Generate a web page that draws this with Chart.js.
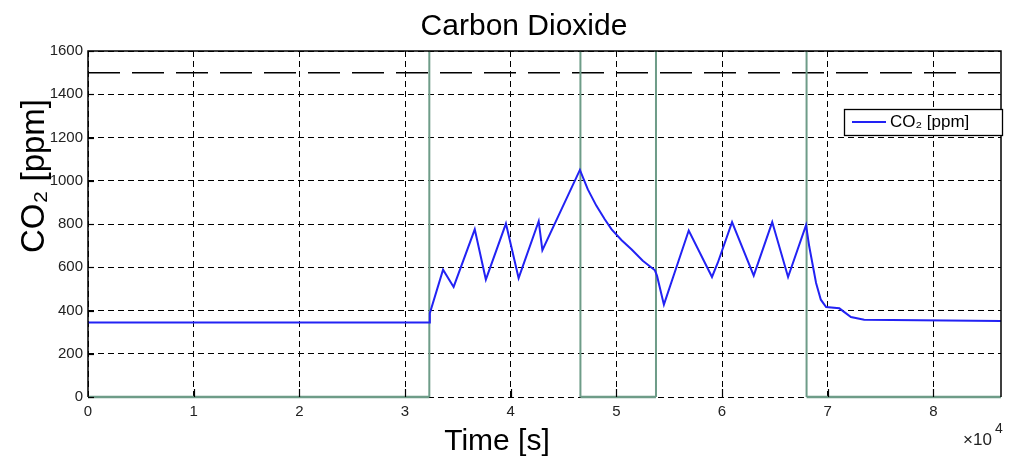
<!DOCTYPE html>
<html><head><meta charset="utf-8">
<script src="https://cdn.jsdelivr.net/npm/chart.js@4.4.0/dist/chart.umd.min.js"></script>
<style>html,body{margin:0;padding:0;background:#fff;}#wrap{width:1014px;height:459px;}</style>
</head><body><div id="wrap"><canvas id="c" width="1014" height="459"></canvas></div>
<script>
const chartTitle = 'Carbon Dioxide';
const xTitle = 'Time [s]';
const yTitle = 'CO₂ [ppm]';
const seriesName = 'CO₂ [ppm]';
const xExponent = '×10';
const xExponentPower = '4';

const xTicks = [0, 10000, 20000, 30000, 40000, 50000, 60000, 70000, 80000];
const xTickLabels = ['0', '1', '2', '3', '4', '5', '6', '7', '8'];
const yTicks = [0, 200, 400, 600, 800, 1000, 1200, 1400, 1600];
const yTickLabels = ['0', '200', '400', '600', '800', '1000', '1200', '1400', '1600'];
const xMax = 86400;
const yMax = 1600;

const co2Time  = [0, 32300, 32350, 33600, 34600, 36600, 37650, 39550, 40750, 42650, 43000, 46550, 47300, 48100, 48900, 49550, 50500, 51450, 52500, 53650, 53850, 54500, 56850, 59050, 59600, 60950, 63000, 64750, 66250, 67950, 68250, 68900, 69350, 69850, 71100, 72200, 73450, 86400];
const co2Value = [345, 345, 388, 589, 509, 775, 543, 802, 550, 813, 679, 1050, 960, 885, 822, 775, 725, 682, 630, 586, 560, 427, 770, 555, 621, 809, 561, 809, 555, 795, 697, 527, 450, 416, 410, 370, 357, 352];

const switchTimes = [32300, 46600, 53750, 68000];
const statusStart = [0, 46600, 68000];
const statusEnd = [32300, 53750, 86400];
const limitValue = 1500;

const blue = '#2222f4';
const green = '#6e9c88';
const FONT = '"Liberation Sans", Arial, sans-serif';

const co2Data = co2Time.map((t, i) => ({x: t, y: co2Value[i]}));
const vlineData = switchTimes.flatMap(t => [{x: t, y: 0}, {x: t, y: yMax}, {x: t, y: null}]);
const statusData = statusStart.flatMap((s, i) => [{x: s, y: 0}, {x: statusEnd[i], y: 0}, {x: statusEnd[i], y: null}]);
const limitData = [{x: 0, y: limitValue}, {x: xMax, y: limitValue}];

const decor = {
  id: 'decor',
  afterDatasetsDraw(chart) {
    const ctx = chart.ctx, a = chart.chartArea;
    const xs = chart.scales.x, ys = chart.scales.y;
    ctx.save();
    ctx.strokeStyle = '#000';
    ctx.lineWidth = 1.5;
    ctx.setLineDash([]);
    ctx.beginPath();
    ctx.moveTo(a.left, a.bottom);
    ctx.lineTo(a.left, a.top);
    ctx.lineTo(a.right, a.top);
    ctx.lineTo(a.right, a.bottom);
    ctx.stroke();
    ctx.lineWidth = 1.2;
    xTicks.forEach(v => {
      if (v === 0) return;
      const px = Math.round(xs.getPixelForValue(v)) + 0.5;
      ctx.beginPath(); ctx.moveTo(px, a.bottom); ctx.lineTo(px, a.bottom - 8); ctx.stroke();
    });
    yTicks.forEach(v => {
      const py = Math.round(ys.getPixelForValue(v)) + 0.5;
      ctx.beginPath(); ctx.moveTo(a.left, py); ctx.lineTo(a.left + 6, py); ctx.stroke();
    });
    ctx.restore();
  },
  afterDraw(chart) {
    const ctx = chart.ctx;
    ctx.save();
    ctx.fillStyle = '#000';
    ctx.font = '30px ' + FONT;
    ctx.textAlign = 'center';
    ctx.textBaseline = 'alphabetic';
    ctx.fillText(chartTitle, 524, 35);
    ctx.fillText(xTitle, 497, 450);
    ctx.save();
    ctx.translate(44, 176);
    ctx.rotate(-Math.PI / 2);
    ctx.font = '33px ' + FONT;
    ctx.fillText(yTitle, 0, 0);
    ctx.restore();
    ctx.fillStyle = '#222';
    ctx.font = '17px ' + FONT;
    ctx.textAlign = 'left';
    ctx.fillText(xExponent, 963, 445);
    ctx.font = '14px ' + FONT;
    ctx.fillText(xExponentPower, 995, 433);
    const lx = 844, ly = 109, lw = 158, lh = 26;
    ctx.fillStyle = '#fff';
    ctx.fillRect(lx, ly, lw, lh);
    ctx.strokeStyle = '#000';
    ctx.lineWidth = 1.3;
    ctx.strokeRect(lx + 0.5, ly + 0.5, lw, lh);
    ctx.strokeStyle = blue;
    ctx.lineWidth = 2;
    ctx.beginPath(); ctx.moveTo(852, 122); ctx.lineTo(886, 122); ctx.stroke();
    ctx.fillStyle = '#000';
    ctx.font = '17px ' + FONT;
    ctx.textBaseline = 'middle';
    ctx.fillText(seriesName, 890, 122);
    ctx.restore();
  }
};

new Chart(document.getElementById('c'), {
  type: 'line',
  data: {
    datasets: [
      {label: seriesName, data: co2Data, borderColor: blue, borderWidth: 2, pointRadius: 0, tension: 0},
      {label: 'switch', data: vlineData, borderColor: green, borderWidth: 2, pointRadius: 0, spanGaps: false},
      {label: 'status', data: statusData, borderColor: green, borderWidth: 2.5, pointRadius: 0, spanGaps: false, clip: 4},
      {label: 'limit', data: limitData, borderColor: '#000', borderWidth: 1.5, borderDash: [32, 12], pointRadius: 0}
    ]
  },
  options: {
    responsive: false,
    animation: false,
    devicePixelRatio: 1,
    layout: {padding: {left: 0, top: 51, right: 13, bottom: 0}},
    plugins: {legend: {display: false}, title: {display: false}, tooltip: {enabled: false}},
    scales: {
      x: {
        type: 'linear', min: 0, max: xMax,
        afterFit(s) { s.height = 62; },
        afterBuildTicks(s) { s.ticks = xTicks.map(v => ({value: v})); },
        grid: {color: '#000', lineWidth: 1, drawTicks: false},
        border: {display: false, dash: [6, 4]},
        ticks: {
          padding: 6, color: '#222', font: {family: FONT, size: 15},
          callback: (v) => xTickLabels[xTicks.indexOf(v)]
        }
      },
      y: {
        type: 'linear', min: 0, max: yMax,
        afterFit(s) { s.width = 88; },
        afterBuildTicks(s) { s.ticks = yTicks.map(v => ({value: v})); },
        grid: {color: '#000', lineWidth: 1, drawTicks: false},
        border: {display: false, dash: [6, 4]},
        ticks: {
          padding: 5, color: '#222', font: {family: FONT, size: 15},
          callback: (v) => yTickLabels[yTicks.indexOf(v)]
        }
      }
    }
  },
  plugins: [decor]
});
</script>
</body></html>
